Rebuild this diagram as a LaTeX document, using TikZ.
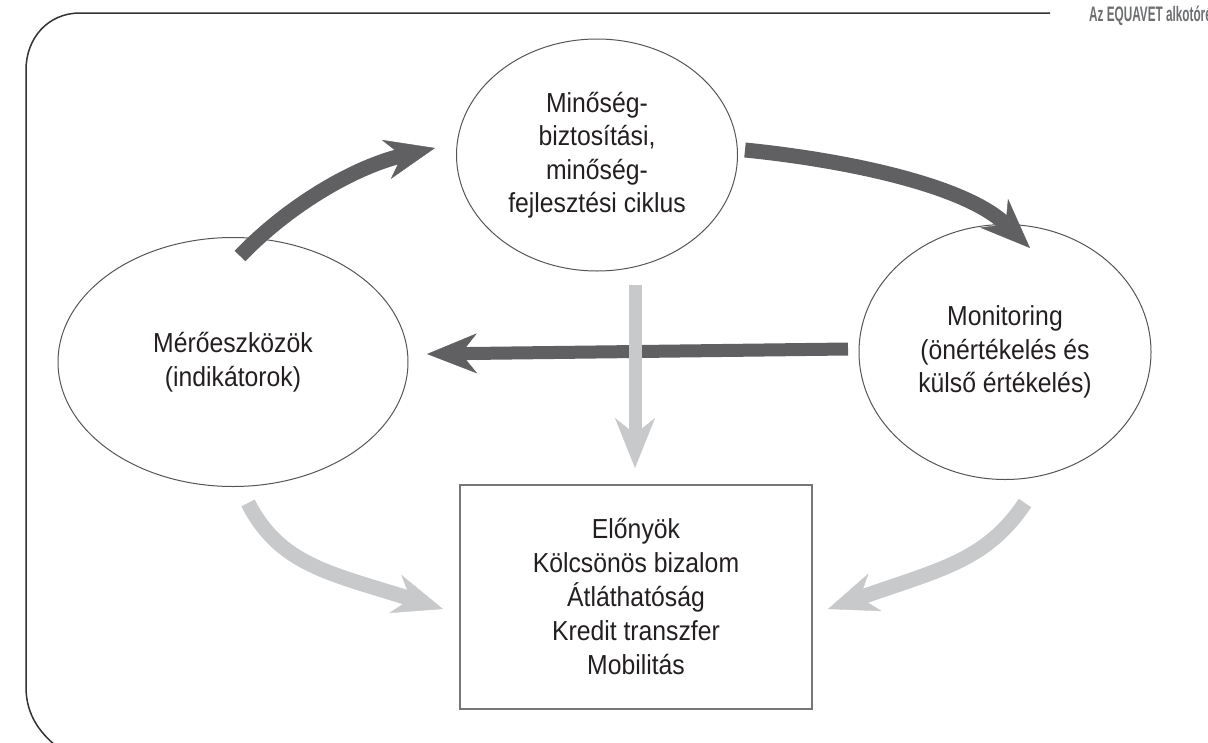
\documentclass[tikz,border=0pt]{standalone}
\usepackage{fontspec}
\setmainfont{Liberation Sans}[FakeStretch=0.9]
\newfontfamily\headfont{Liberation Sans Bold}[FakeStretch=0.56]
\usetikzlibrary{shapes.geometric,arrows.meta}
\definecolor{darkarr}{HTML}{606062}
\definecolor{lightarr}{HTML}{C8C9CB}
\definecolor{headgray}{HTML}{6D6E70}
\definecolor{framecol}{HTML}{333333}
\definecolor{ellcol}{HTML}{555555}
\definecolor{boxcol}{HTML}{777777}
\definecolor{txt}{HTML}{231F20}
\tikzset{
  bigtip/.style={-{Stealth[length=50pt,width=40pt,inset=16pt,line width=0.4pt]}},
  darkarrow/.style={draw=darkarr, line width=15pt, bigtip},
  lightarrow/.style={draw=lightarr, line width=15pt, bigtip},
  ellnode/.style={ellipse, draw=ellcol, line width=1pt, inner sep=0pt, align=center,
    text=txt, font=\fontsize{27.5}{33.5}\selectfont},
  boxnode/.style={rectangle, draw=boxcol, line width=1.5pt, inner sep=0pt, align=center,
    text=txt, font=\fontsize{27.5}{34}\selectfont},
}
\begin{document}
\begin{tikzpicture}[x=1pt,y=-1pt]
\useasboundingbox (0,0) rectangle (1208,742);
% frame
\draw[framecol, line width=1.5pt] (1050,13) -- (80,13) .. controls (48,13) and (26,38) .. (26,70)
  -- (26,687) .. controls (26,715) and (40,735) .. (64,752);
\node[anchor=base west, inner sep=0pt, text=headgray, font=\headfont\fontsize{21}{24}\selectfont] (head) at (1089,21) {Az EQUAVET alkotórés};
% nodes
\node[ellnode, minimum width=281pt, minimum height=232pt] (mq) at (597,155)
  {Minőség-\\biztosítási,\\minőség-\\fejlesztési ciklus};
\node[ellnode, minimum width=350pt, minimum height=249pt] (me) at (233,362)
  {Mérőeszközök\\(indikátorok)};
\node[ellnode, minimum width=292pt, minimum height=255pt] (mon) at (1005,352)
  {Monitoring\\(önértékelés és\\külső értékelés)};
\node[boxnode, minimum width=352pt, minimum height=224pt] (elo) at (636,597)
  {Előnyök\\Kölcsönös bizalom\\Átláthatóság\\Kredit transzfer\\Mobilitás};
% arrow ends
\coordinate (a1s) at (240,256);
\coordinate (a1e) at (435,148);
\coordinate (a2s) at (745,150);
\coordinate (a2e) at (1030,248);
\coordinate (a3s) at (848,349);
\coordinate (a3e) at (427,354);
\coordinate (a4s) at (635,285);
\coordinate (a4e) at (635,468);
\coordinate (a5s) at (248,503);
\coordinate (a5e) at (443,609);
\coordinate (a6s) at (1025,503);
\coordinate (a6e) at (828,609);
% arrows
\draw[darkarrow] (a1s) .. controls (292,202) and (358,166) .. (a1e);
\draw[darkarrow] (a2s) .. controls (845,160) and (965,185) .. (a2e);
\draw[darkarr, line width=13pt, bigtip] (a3s) -- (a3e);
\draw[lightarr, line width=13pt, bigtip] (a4s) -- (a4e);
\draw[lightarrow] (a5s) .. controls (280,565) and (329,573) .. (a5e);
\draw[lightarrow] (a6s) .. controls (986,561) and (941,569) .. (a6e);
\end{tikzpicture}
\end{document}
